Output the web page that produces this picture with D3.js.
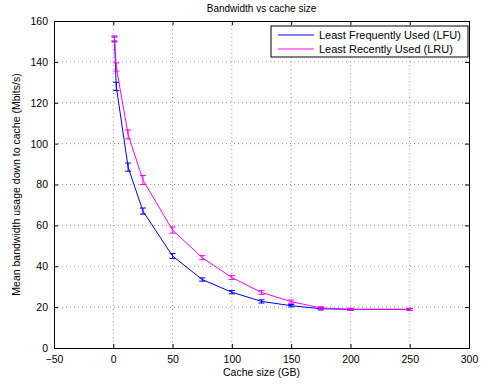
<!DOCTYPE html>
<html>
<head>
<meta charset="utf-8">
<script src="https://cdn.jsdelivr.net/npm/d3@7"></script>
<style>
  body { margin: 0; background: #fff; }
  text { font-family: "Liberation Sans", Arial, sans-serif; fill: #000; }
</style>
</head>
<body>
<div id="chart"></div>
<script>
// cache sizes (GB)
const cacheSizes = [1, 2.5, 12.5, 25, 50, 75, 100, 125, 150, 175, 200, 250];
const lfuMean = [151, 128, 88.5, 67, 45, 33.5, 27.3, 22.8, 20.7, 19.2, 18.9, 18.9];
const lfuErr  = [1.2, 2, 2, 1.5, 1.2, 0.8, 0.8, 0.8, 0.6, 0.6, 0.5, 0.5];
const lruMean = [151.5, 137.5, 104.5, 82.2, 57.7, 44.2, 34.5, 27.2, 22.7, 19.6, 18.9, 18.9];
const lruErr  = [1.2, 2, 2.2, 2.2, 1.5, 1, 1, 1, 0.8, 0.6, 0.5, 0.5];
const xTicks = [-50, 0, 50, 100, 150, 200, 250, 300];
const yTicks = [0, 20, 40, 60, 80, 100, 120, 140, 160];

const series = [
  { name: "Least Frequently Used (LFU)", color: "#0000ff", mean: lfuMean, err: lfuErr },
  { name: "Least Recently Used (LRU)", color: "#ff00ff", mean: lruMean, err: lruErr }
];

const width = 482, height = 386;
const margin = { top: 21, right: 13, bottom: 38, left: 54 };
const iw = width - margin.left - margin.right;
const ih = height - margin.top - margin.bottom;

const svg = d3.select("#chart").append("svg")
  .attr("width", width)
  .attr("height", height);

const g = svg.append("g").attr("transform", `translate(${margin.left},${margin.top})`);

const x = d3.scaleLinear().domain([-50, 300]).range([0, iw]);
const y = d3.scaleLinear().domain([0, 160]).range([ih, 0]);

// grid
g.append("g").selectAll("line").data(xTicks.slice(1, -1)).join("line")
  .attr("x1", d => x(d)).attr("x2", d => x(d))
  .attr("y1", 0).attr("y2", ih)
  .attr("stroke", "#999").attr("stroke-width", 1)
  .attr("stroke-dasharray", "1,3");
g.append("g").selectAll("line").data(yTicks.slice(1, -1)).join("line")
  .attr("x1", 0).attr("x2", iw)
  .attr("y1", d => y(d)).attr("y2", d => y(d))
  .attr("stroke", "#999").attr("stroke-width", 1)
  .attr("stroke-dasharray", "1,3");

// axes, ticks inward
const fmt = d => d < 0 ? "\u2212" + Math.abs(d) : String(d);
const xAxis = g.append("g").attr("transform", `translate(0,${ih})`)
  .call(d3.axisBottom(x).tickValues(xTicks).tickSize(-4).tickPadding(8).tickFormat(fmt));
const yAxis = g.append("g")
  .call(d3.axisLeft(y).tickValues(yTicks).tickSize(-4).tickPadding(6));
g.append("g")
  .call(d3.axisTop(x).tickValues(xTicks).tickSize(-4).tickFormat(""));
g.append("g").attr("transform", `translate(${iw},0)`)
  .call(d3.axisRight(y).tickValues(yTicks).tickSize(-4).tickFormat(""));
svg.selectAll(".domain").attr("stroke", "#000").attr("stroke-width", 1);
svg.selectAll(".tick line").attr("stroke", "#000");
svg.selectAll(".tick text").style("font-size", "10.5px")
  .style("font-family", "'Liberation Sans', Arial, sans-serif");

// series
const line = d3.line().x(d => x(d[0])).y(d => y(d[1]));
series.forEach(s => {
  const pts = cacheSizes.map((c, i) => [c, s.mean[i], s.err[i]]);
  const sg = g.append("g");
  sg.append("path").datum(pts)
    .attr("d", line)
    .attr("fill", "none")
    .attr("stroke", s.color)
    .attr("stroke-width", 1);
  const eb = sg.selectAll(".eb").data(pts).join("g");
  eb.append("line")
    .attr("x1", d => x(d[0])).attr("x2", d => x(d[0]))
    .attr("y1", d => y(d[1] - d[2])).attr("y2", d => y(d[1] + d[2]))
    .attr("stroke", s.color);
  [-1, 1].forEach(k => {
    eb.append("line")
      .attr("x1", d => x(d[0]) - 3).attr("x2", d => x(d[0]) + 3)
      .attr("y1", d => y(d[1] + k * d[2])).attr("y2", d => y(d[1] + k * d[2]))
      .attr("stroke", s.color);
  });
});

// legend
const lg = svg.append("g").attr("transform", "translate(271,26)");
lg.append("rect").attr("width", 197).attr("height", 31)
  .attr("fill", "#fff").attr("stroke", "#000").attr("stroke-width", 1);
series.forEach((s, i) => {
  const yy = 9 + i * 14;
  lg.append("line").attr("x1", 7).attr("x2", 43).attr("y1", yy).attr("y2", yy)
    .attr("stroke", s.color);
  lg.append("text").attr("x", 48).attr("y", yy + 4)
    .style("font-size", "11px").text(s.name);
});

// title and labels
svg.append("text").attr("x", margin.left + iw / 2).attr("y", 12)
  .attr("text-anchor", "middle").style("font-size", "10px")
  .text("Bandwidth vs cache size");
svg.append("text").attr("x", margin.left + iw / 2).attr("y", 376)
  .attr("text-anchor", "middle").style("font-size", "10.5px")
  .text("Cache size (GB)");
svg.append("text")
  .attr("transform", `translate(20,${margin.top + ih / 2}) rotate(-90)`)
  .attr("text-anchor", "middle").style("font-size", "10.5px")
  .text("Mean bandwidth usage down to cache (Mbits/s)");
</script>
</body>
</html>
